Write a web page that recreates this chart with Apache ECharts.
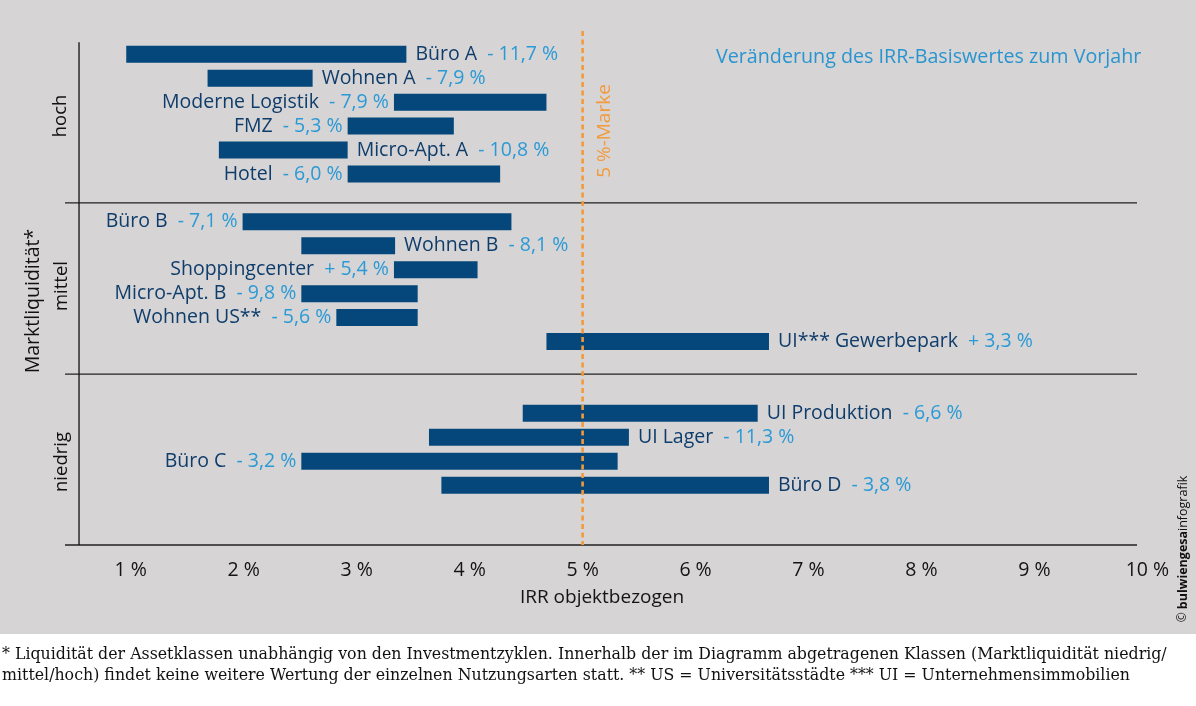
<!DOCTYPE html>
<html><head><meta charset="utf-8">
<script src="https://cdn.jsdelivr.net/npm/echarts@6/dist/echarts.min.js"></script>
<style>html,body{margin:0;padding:0;background:#fff}#c{width:1196px;height:706px}</style>
</head><body><div id="c"></div>
<script>
// ---- data ----
const categories = ['Büro A','Wohnen A','Moderne Logistik','FMZ','Micro-Apt. A','Hotel','',
  'Büro B','Wohnen B','Shoppingcenter','Micro-Apt. B','Wohnen US**','UI*** Gewerbepark','','',
  'UI Produktion','UI Lager','Büro C','Büro D','',''];
const irrFrom = [0.96,1.68,3.33,2.92,1.78,2.92,null,1.99,2.51,3.33,2.51,2.82,4.68,null,null,4.47,3.64,2.51,3.75,null,null];
const irrTo   = [3.44,2.61,4.68,3.86,2.92,4.27,null,4.37,3.34,4.07,3.54,3.54,6.65,null,null,6.55,5.41,5.31,6.65,null,null];
const changes = [-11.7,-7.9,-7.9,-5.3,-10.8,-6.0,null,-7.1,-8.1,5.4,-9.8,-5.6,3.3,null,null,-6.6,-11.3,-3.2,-3.8,null,null];
const xTickLabels = ['1 %','2 %','3 %','4 %','5 %','6 %','7 %','8 %','9 %','10 %'];
const groupLabels = ['hoch','mittel','niedrig'];
const markValue = 5;
const titleText = 'Veränderung des IRR-Basiswertes zum Vorjahr';
const axisTitle = 'IRR objektbezogen';
const footnote = '* Liquidität der Assetklassen unabhängig von den Investmentzyklen. Innerhalb der im Diagramm abgetragenen Klassen (Marktliquidität niedrig/\nmittel/hoch) findet keine weitere Wertung der einzelnen Nutzungsarten statt. ** US = Universitätsstädte *** UI = Unternehmensimmobilien';

// ---- layout (not data) ----
const labelSide = ['right','right','left','left','right','left',null,'left','right','left','left','left','right',null,null,'right','right','left','right',null,null];
const sepRows = [6.71, 13.86, 21];
const lineFrom = 0.418, lineTo = 9.908, vAxisX = 0.542;

const FONT = 'Open Sans';
const LS = 19.5;
const NAME_C = '#0f3d6b', PCT_C = '#2a9ad6', BAR_C = '#05477a', ORANGE = '#f39a3a';

function fmt(v){ return (v < 0 ? '- ' : '+ ') + Math.abs(v).toFixed(1).replace('.', ',') + ' %'; }

const baseData = irrFrom.map(v => v == null ? '-' : v);
const rangeData = irrFrom.map((v, i) => {
  if (v == null) return '-';
  const side = labelSide[i];
  return { value: +(irrTo[i] - v).toFixed(3), label: { position: side, distance: side === 'right' ? 9 : 5 } };
});

const lineSeries = (data, style, z) => ({
  type: 'line', xAxisIndex: 0, yAxisIndex: 1, data, symbol: 'none', silent: true,
  clip: false, lineStyle: style, z, animation: false
});

const series = [
  { type: 'bar', stack: 'r', data: baseData, barWidth: 17, itemStyle: { color: 'transparent' }, silent: true, animation: false },
  { type: 'bar', stack: 'r', data: rangeData, barWidth: 17, itemStyle: { color: BAR_C }, animation: false,
    label: { show: true, fontFamily: FONT, fontSize: LS, color: NAME_C,
      formatter: p => '{n|' + categories[p.dataIndex] + '}  {p|' + fmt(changes[p.dataIndex]) + '}',
      rich: { n: { color: NAME_C, fontFamily: FONT, fontSize: LS }, p: { color: PCT_C, fontFamily: FONT, fontSize: LS } } } }
];
sepRows.forEach(r => series.push(lineSeries([[lineFrom, r], [lineTo, r]], { color: '#222', width: 1.3 }, 3)));
series.push(lineSeries([[vAxisX, 0], [vAxisX, 21]], { color: '#111', width: 1.3 }, 3));
series.push(lineSeries([[markValue, -0.47], [markValue, 21]], { color: ORANGE, width: 2.6, type: [5, 3.5] }, 5));

const txt = (x, y, text, size, fill, extra) => Object.assign({ type: 'text', x, y,
  style: { text, fill, font: size + 'px "' + FONT + '"', align: 'center', textAlign: 'center', verticalAlign: 'middle', textVerticalAlign: 'middle' } }, extra || {});

const chart = echarts.init(document.getElementById('c'), null, { renderer: 'canvas' });
chart.setOption({
  backgroundColor: '#ffffff',
  animation: false,
  grid: { left: 17.8, right: 48.6, top: 42.3, bottom: 161, containLabel: false },
  xAxis: { type: 'value', min: 0, max: 10, interval: 1,
    axisLine: { show: false }, axisTick: { show: false }, splitLine: { show: false },
    axisLabel: { margin: 15, fontFamily: FONT, fontSize: 19.5, color: '#141414',
      formatter: v => (v >= 1 ? xTickLabels[v - 1] : '') } },
  yAxis: [
    { type: 'category', data: categories, inverse: true, show: false },
    { type: 'value', min: 0, max: 21, inverse: true, show: false }
  ],
  graphic: [
    { type: 'rect', z: -10, shape: { x: 0, y: 0, width: 1196, height: 634 }, style: { fill: '#d6d4d5' }, silent: true },
    { type: 'text', x: 716, y: 57, style: { text: titleText, fill: '#2995d0', font: '19.7px "' + FONT + '"', verticalAlign: 'middle', textVerticalAlign: 'middle' } },
    txt(605, 131, '5 %-Marke', 19, ORANGE, { rotation: Math.PI / 2 }),
    txt(602, 598, axisTitle, 19, '#141414'),
    txt(60.5, 116, groupLabels[0], 18.5, '#111', { rotation: Math.PI / 2 }),
    txt(61.5, 286, groupLabels[1], 18.5, '#111', { rotation: Math.PI / 2 }),
    txt(33, 301, 'Marktliquidität*', 19.5, '#111', { rotation: Math.PI / 2 }),
    txt(62, 462, groupLabels[2], 18.5, '#111', { rotation: Math.PI / 2 }),
    { type: 'text', x: 1183, y: 549, rotation: Math.PI / 2, style: { text: '© {b|bulwiengesa}{r|infografik}', fill: '#111', font: '12px "' + FONT + '"', align: 'center', textAlign: 'center', verticalAlign: 'middle', textVerticalAlign: 'middle',
      rich: { b: { fontWeight: 'bold', fontSize: 12.5, fontFamily: FONT, fill: '#111', color: '#111' }, r: { fontSize: 12.5, fontFamily: FONT, fill: '#111', color: '#111' } } } },
    { type: 'text', x: 2, y: 644, style: { text: footnote, fill: '#111', font: '15.8px "DejaVu Serif"', lineHeight: 21, verticalAlign: 'top', textVerticalAlign: 'top' } }
  ],
  series
});
</script></body></html>
